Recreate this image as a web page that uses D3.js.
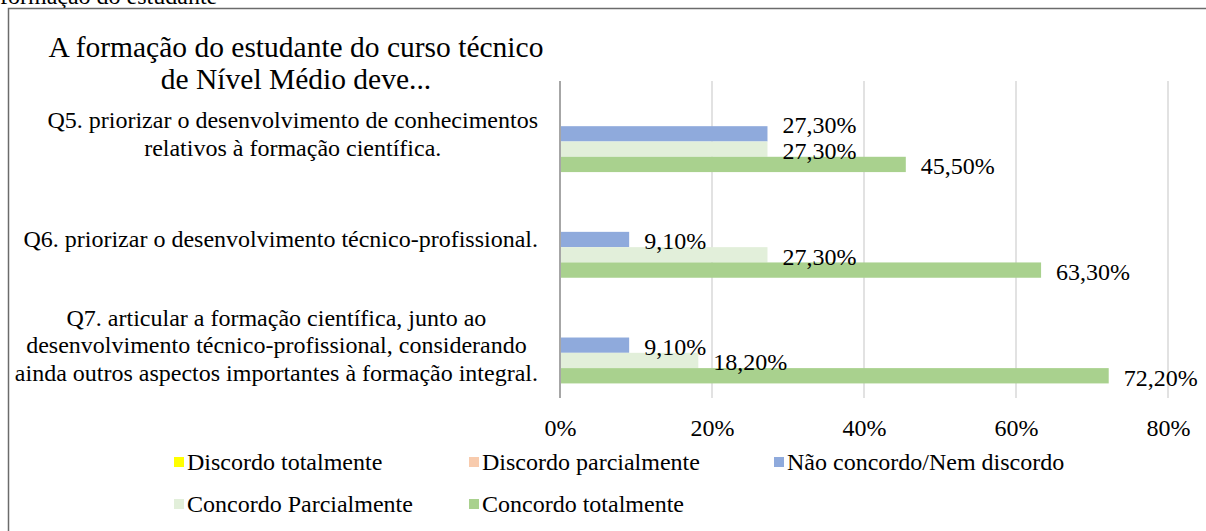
<!DOCTYPE html>
<html>
<head>
<meta charset="utf-8">
<script src="https://cdn.jsdelivr.net/npm/d3@7"></script>
<style>
  html, body { margin: 0; padding: 0; background: #fff; }
  svg { display: block; }
  text { font-family: "Liberation Serif", "Times New Roman", serif; fill: #000; }
</style>
</head>
<body>
<svg id="chart" width="1206" height="531"></svg>
<script>
// ---- data ----
const titleLines = ["A formação do estudante do curso técnico", "de Nível Médio deve..."];
const categories = ["Q5", "Q6", "Q7"];
const categoryLines = [
  ["Q5. priorizar o desenvolvimento de conhecimentos", "relativos à formação científica."],
  ["Q6. priorizar o desenvolvimento técnico-profissional."],
  ["Q7. articular a formação científica, junto ao", "desenvolvimento técnico-profissional, considerando", "ainda outros aspectos importantes à formação integral."]
];
const seriesNames = ["Discordo totalmente", "Discordo parcialmente", "Não concordo/Nem discordo", "Concordo Parcialmente", "Concordo totalmente"];
const seriesColors = ["#FFFF00", "#F8CBAD", "#8FAADC", "#E2EFDA", "#A9D18E"];
const discordoTotalmente = [null, null, null];
const discordoParcialmente = [null, null, null];
const naoConcordo = [27.3, 9.1, 9.1];
const concordoParcialmente = [27.3, 27.3, 18.2];
const concordoTotalmente = [45.5, 63.3, 72.2];
const tickValues = [0, 20, 40, 60, 80];
const tickLabels = ["0%", "20%", "40%", "60%", "80%"];
const topCaption = "formação do estudante";

// ---- build ----
const seriesValues = [discordoTotalmente, discordoParcialmente, naoConcordo, concordoParcialmente, concordoTotalmente];
const svg = d3.select("#chart");
const FS = 24;

// caption above the frame (cut off by the page edge, as in the source)
svg.append("text").attr("x", 0).attr("y", 4).style("font-size", "24px").text(topCaption);

// frame
svg.append("rect").attr("x", 8.5).attr("y", 8.5).attr("width", 1210).attr("height", 540)
  .attr("fill", "none").attr("stroke", "#6b6b6b").attr("stroke-width", 1.5);

// title
const title = svg.append("text").attr("text-anchor", "middle").style("font-size", "29.5px");
titleLines.forEach((l, i) => title.append("tspan").attr("x", 296).attr("y", 57 + i * 32).text(l));

// scales
const x = d3.scaleLinear().domain([0, 80]).range([560, 1168]);
const y0 = d3.scaleBand().domain(categories).range([81, 398]).paddingInner(0.276).paddingOuter(0.138);
const y1 = d3.scaleBand().domain(seriesNames).range([0, y0.bandwidth()]);

// gridlines
svg.append("g").selectAll("line").data(tickValues.filter(v => v > 0)).join("line")
  .attr("x1", d => x(d)).attr("x2", d => x(d)).attr("y1", 81).attr("y2", 398)
  .attr("stroke", "#d9d9d9").attr("stroke-width", 1.5);

// x tick labels via axis
const xAxis = d3.axisBottom(x).tickValues(tickValues).tickFormat((d, i) => tickLabels[i]).tickSize(0).tickPadding(0);
const gx = svg.append("g").attr("transform", "translate(0,436)").call(xAxis);
gx.select(".domain").remove();
gx.selectAll("text").attr("dy", 0).attr("y", 0)
  .style("font-size", FS + "px").style("font-family", '"Liberation Serif", serif').attr("fill", "#000");

// bars
const groups = svg.append("g").selectAll("g").data(categories).join("g")
  .attr("transform", d => `translate(0,${y0(d)})`);
groups.each(function(cat, ci) {
  const g = d3.select(this);
  const rows = seriesNames.map((s, si) => ({ s, si, v: seriesValues[si][ci] })).filter(r => r.v != null);
  g.selectAll("rect").data(rows).join("rect")
    .attr("x", x(0)).attr("y", r => y1(r.s)).attr("height", y1.bandwidth())
    .attr("width", r => x(r.v) - x(0)).attr("fill", r => seriesColors[r.si]);
  g.selectAll("text.lbl").data(rows).join("text").attr("class", "lbl")
    .attr("x", r => x(r.v) + 15)
    .attr("y", r => y1(r.s) + y1.bandwidth() / 2 + 10 + (ci === 0 && r.si === 2 ? -11 : 0))
    .style("font-size", FS + "px")
    .text(r => r.v.toFixed(2).replace(".", ",") + "%");
});

// vertical category axis line
svg.append("line").attr("x1", x(0)).attr("x2", x(0)).attr("y1", 81).attr("y2", 398)
  .attr("stroke", "#a6a6a6").attr("stroke-width", 2);

// category labels
const lineH = 27.5;
categories.forEach((c, ci) => {
  const lines = categoryLines[ci];
  const cy = y0(c) + y0.bandwidth() / 2;
  const t = svg.append("text").attr("text-anchor", "middle").style("font-size", FS + "px");
  const spans = lines.map((l, li) => t.append("tspan").attr("y", cy + (li - (lines.length - 1) / 2) * lineH + 0.33 * FS).text(l));
  const maxW = d3.max(spans, s => s.node().getComputedTextLength());
  const cx = 538 - maxW / 2;
  spans.forEach(s => s.attr("x", cx));
});

// legend
const legendPos = [[174, 470], [469, 470], [774, 470], [174, 512], [469, 512]];
const lg = svg.append("g").selectAll("g").data(seriesNames).join("g")
  .attr("transform", (d, i) => `translate(${legendPos[i][0]},${legendPos[i][1]})`);
lg.append("rect").attr("x", 0).attr("y", -13).attr("width", 10).attr("height", 10)
  .attr("fill", (d, i) => seriesColors[i]);
lg.append("text").attr("x", 13).attr("y", 0).style("font-size", FS + "px").text(d => d);
</script>
</body>
</html>
